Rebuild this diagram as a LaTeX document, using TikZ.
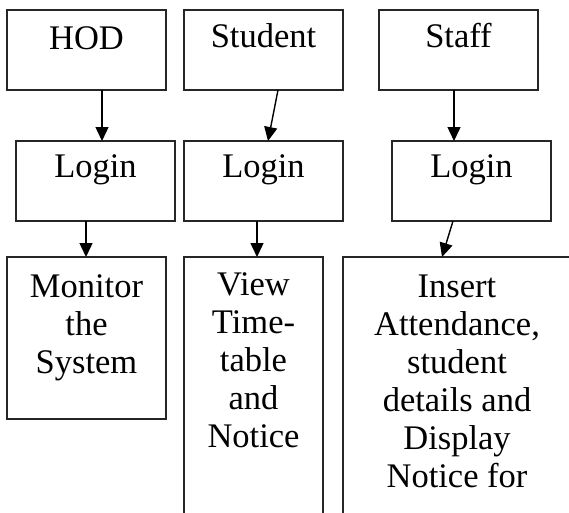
\documentclass[tikz,border=0pt]{standalone}
\usepackage{fontspec}
\setmainfont{Liberation Serif}
\usetikzlibrary{arrows.meta}
\newcommand{\bxt}[4]{\parbox[c][#2][t]{#1}{\fontsize{34.5}{38}\selectfont\centering\rule{0pt}{#3}#4\par}}
\begin{document}
\begin{tikzpicture}[x=1pt,y=-1pt,
  bx/.style={draw=black!85, line width=1.8pt, inner sep=0pt, outer sep=0pt, anchor=north west, text=black},
  arr/.style={draw=black, line width=1.4pt, -{Triangle[length=14pt,width=13pt]}}]
\path[use as bounding box, clip] (0,0) rectangle (569,512);
\fill[white] (0,0) rectangle (569,512);
% top row
\node[bx] (hod) at (7,10) {\bxt{159pt}{80pt}{39pt}{HOD}};
\node[bx] (student) at (184,10) {\bxt{159pt}{80pt}{37pt}{Student}};
\node[bx] (staff) at (379,10) {\bxt{159pt}{80pt}{37pt}{Staff}};
% login row
\node[bx] (login1) at (16,141) {\bxt{159pt}{80pt}{36pt}{Login}};
\node[bx] (login2) at (184,141) {\bxt{159pt}{80pt}{36pt}{Login}};
\node[bx] (login3) at (392,141) {\bxt{159pt}{80pt}{36pt}{Login}};
% bottom row
\node[bx] (monitor) at (7,257) {\bxt{159pt}{162pt}{40pt}{Monitor\\the\\System}};
\node[bx] (view) at (184,257) {\bxt{139pt}{280pt}{38pt}{View\\Time-\\table\\and\\Notice}};
\node[bx] (insert) at (343,257) {\bxt{228pt}{280pt}{40pt}{Insert\\Attendance,\\student\\details and\\Display\\Notice for}};
% connectors
\draw[arr] ([xshift=15.5pt]hod.south) -- ([xshift=6.5pt]login1.north);
\draw[arr] ([xshift=14.5pt]student.south) -- ([xshift=4.5pt]login2.north);
\draw[arr] ([xshift=-4.5pt]staff.south) -- ([xshift=-17.5pt]login3.north);
\draw[arr] ([xshift=-9.5pt]login1.south) -- ([xshift=-0.5pt]monitor.north);
\draw[arr] ([xshift=-6.5pt]login2.south) -- ([xshift=3.5pt]view.north);
\draw[arr] ([xshift=-18.5pt]login3.south) -- ([xshift=-15pt]insert.north);
\end{tikzpicture}
\end{document}
